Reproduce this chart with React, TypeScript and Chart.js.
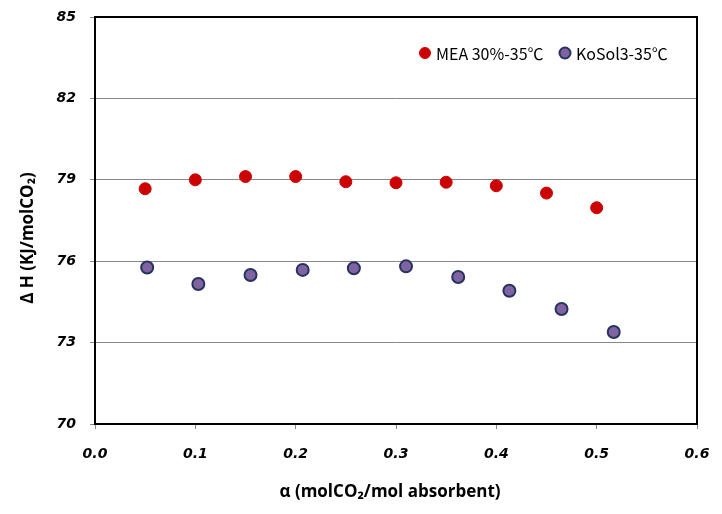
import React, { useEffect, useRef } from "react";
import { Chart, registerables } from "chart.js";

Chart.register(...registerables);

const seriesNames = ["MEA 30%-35℃", "KoSol3-35℃"];
const meaX = [0.05, 0.1, 0.15, 0.2, 0.25, 0.3, 0.35, 0.4, 0.45, 0.5];
const meaY = [78.67, 79.0, 79.12, 79.12, 78.93, 78.89, 78.91, 78.78, 78.51, 77.97];
const kosolX = [0.052, 0.103, 0.155, 0.207, 0.258, 0.31, 0.362, 0.413, 0.465, 0.517];
const kosolY = [75.77, 75.16, 75.49, 75.68, 75.74, 75.81, 75.42, 74.91, 74.24, 73.39];
const xTicks = [0, 0.1, 0.2, 0.3, 0.4, 0.5, 0.6];
const yTicks = [70, 73, 76, 79, 82, 85];
const xTitle = "α (molCO₂/mol absorbent)";
const yTitle = "Δ H (KJ/molCO₂)";

const tickFont = { family: "'DejaVu Sans', Verdana, sans-serif", size: 14, weight: "bold" as const, style: "italic" as const };
const titleFont = "bold 17px 'Open Sans', 'Noto Sans', sans-serif";
const legendFont = "16px 'Noto Sans CJK KR', 'Open Sans', sans-serif";

const framePlugin = {
  id: "frameAndTitles",
  afterDraw(chart: any) {
    const { ctx, chartArea } = chart;
    ctx.save();
    ctx.strokeStyle = "#000";
    ctx.lineWidth = 2;
    ctx.strokeRect(chartArea.left, chartArea.top, chartArea.right - chartArea.left, chartArea.bottom - chartArea.top);
    ctx.fillStyle = "#000";
    ctx.font = titleFont;
    ctx.textAlign = "center";
    ctx.textBaseline = "middle";
    ctx.fillText(xTitle, 390, 492);
    ctx.translate(28, 238);
    ctx.rotate(-Math.PI / 2);
    ctx.fillText(yTitle, 0, 0);
    ctx.restore();

    ctx.save();
    ctx.font = legendFont;
    ctx.textAlign = "left";
    ctx.textBaseline = "middle";
    const items = [
      { x: 425, y: 53 },
      { x: 565, y: 53 },
    ];
    chart.data.datasets.forEach((ds: any, i: number) => {
      const it = items[i];
      ctx.beginPath();
      ctx.arc(it.x, it.y, 5.5, 0, Math.PI * 2);
      ctx.fillStyle = ds.backgroundColor;
      ctx.fill();
      ctx.lineWidth = ds.borderWidth;
      ctx.strokeStyle = ds.borderColor;
      ctx.stroke();
      ctx.fillStyle = "#000";
      ctx.fillText(ds.label, it.x + 11, it.y + 1);
    });
    ctx.restore();
  },
};

export default function App() {
  const ref = useRef<HTMLCanvasElement>(null);
  useEffect(() => {
    if (!ref.current) return;
    const chart = new Chart(ref.current, {
      type: "scatter",
      data: {
        datasets: [
          {
            label: seriesNames[0],
            data: meaX.map((x, i) => ({ x, y: meaY[i] })),
            backgroundColor: "#CC0000",
            borderColor: "#CC0000",
            borderWidth: 1,
            pointRadius: 6,
          },
          {
            label: seriesNames[1],
            data: kosolX.map((x, i) => ({ x, y: kosolY[i] })),
            backgroundColor: "#8064A2",
            borderColor: "#27335E",
            borderWidth: 2,
            pointRadius: 6,
          },
        ],
      },
      options: {
        animation: false,
        responsive: false,
        layout: { padding: { left: 0, right: 25, top: 17, bottom: 0 } },
        plugins: { legend: { display: false }, tooltip: { enabled: false } },
        scales: {
          x: {
            type: "linear",
            min: 0,
            max: 0.6,
            afterBuildTicks: (s: any) => {
              s.ticks = xTicks.map((v) => ({ value: v }));
            },
            afterFit: (s: any) => {
              s.height = 90;
              s.paddingLeft = 0;
              s.paddingRight = 0;
            },
            ticks: {
              font: tickFont,
              color: "#000",
              padding: 17,
              maxRotation: 0,
              callback: (v: any) => Number(v).toFixed(1),
            },
            grid: { drawOnChartArea: false, drawTicks: true, tickLength: 5, tickColor: "#888" },
            border: { display: true, color: "#000", width: 2 },
          },
          y: {
            type: "linear",
            min: 70,
            max: 85,
            afterBuildTicks: (s: any) => {
              s.ticks = yTicks.map((v) => ({ value: v }));
            },
            afterFit: (s: any) => {
              s.width = 95;
              s.paddingTop = 0;
              s.paddingBottom = 0;
            },
            ticks: {
              font: tickFont,
              color: "#000",
              padding: 14,
              callback: (v: any) => String(v),
            },
            grid: {
              color: (c: any) => (c.tick && (c.tick.value === 70 || c.tick.value === 85) ? "rgba(0,0,0,0)" : "#888"),
              lineWidth: 1,
              drawTicks: true,
              tickLength: 5,
              tickColor: "#888",
            },
            border: { display: true, color: "#000", width: 2 },
          },
        },
      },
      plugins: [framePlugin],
    } as any);
    return () => chart.destroy();
  }, []);
  return (
    <div style={{ position: "fixed", left: 0, top: 0, width: 722, height: 514, background: "#fff" }}>
      <canvas ref={ref} width={722} height={514} style={{ width: 722, height: 514 }} />
    </div>
  );
}
